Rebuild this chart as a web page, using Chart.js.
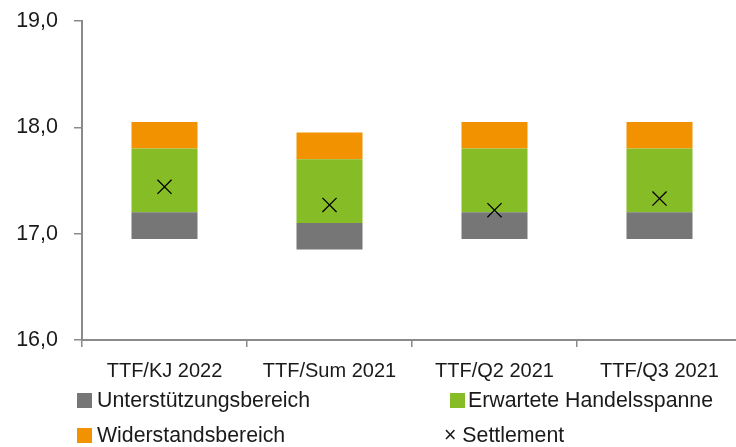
<!DOCTYPE html>
<html>
<head>
<meta charset="utf-8">
<script src="https://cdn.jsdelivr.net/npm/chart.js@4.4.1/dist/chart.umd.min.js"></script>
<style>
  html, body { margin: 0; padding: 0; background: #fff; overflow: hidden; }
  #wrap { position: relative; width: 736px; height: 447px; overflow: hidden; }
  #c { position: absolute; left: 0; top: -8px; }
  .lg { position: absolute; font-family: "Liberation Sans", Arial, sans-serif; font-size: 21.3px; line-height: 1; color: #1a1a1a; white-space: nowrap; }
  .bx { position: absolute; width: 15px; height: 15px; }
</style>
</head>
<body>
<div id="wrap">
  <canvas id="c" width="750" height="455" style="width:750px;height:455px"></canvas>
  <div class="bx" style="left:77px;top:393px;background:#767676"></div>
  <div class="lg" style="left:97px;top:390px">Unterstützungsbereich</div>
  <div class="bx" style="left:450px;top:393px;background:#86BC25"></div>
  <div class="lg" style="left:468px;top:390px">Erwartete Handelsspanne</div>
  <div class="bx" style="left:77px;top:428px;background:#F39200"></div>
  <div class="lg" style="left:97px;top:425px">Widerstandsbereich</div>
  <div class="lg" style="left:444px;top:425px">× Settlement</div>
</div>
<script>
const categories = ['TTF/KJ 2022', 'TTF/Sum 2021', 'TTF/Q2 2021', 'TTF/Q3 2021'];
const supportLow  = [16.95, 16.85, 16.95, 16.95];
const supportHigh = [17.20, 17.10, 17.20, 17.20];
const rangeHigh   = [17.80, 17.70, 17.80, 17.80];
const resistHigh  = [18.05, 17.95, 18.05, 18.05];
const settlement  = [17.44, 17.27, 17.22, 17.33];
const yMin = 16, yMax = 19, yStep = 1;

const pairs = (a, b) => a.map((v, i) => [v, b[i]]);
const axisGrey = '#8a8a8a';

new Chart(document.getElementById('c'), {
  data: {
    labels: categories,
    datasets: [
      { type: 'line', label: 'Settlement', data: settlement, showLine: false,
        pointStyle: 'crossRot', pointRadius: 10, pointHoverRadius: 10,
        borderColor: '#000', backgroundColor: '#000', pointBorderWidth: 1.3, order: 0 },
      { type: 'bar', label: 'Unterstützungsbereich', data: pairs(supportLow, supportHigh),
        backgroundColor: '#767676', order: 1 },
      { type: 'bar', label: 'Erwartete Handelsspanne', data: pairs(supportHigh, rangeHigh),
        backgroundColor: '#86BC25', order: 1 },
      { type: 'bar', label: 'Widerstandsbereich', data: pairs(rangeHigh, resistHigh),
        backgroundColor: '#F39200', order: 1 }
    ]
  },
  options: {
    responsive: false,
    animation: false,
    devicePixelRatio: 1,
    layout: { autoPadding: false, padding: { top: 13, right: 8, left: 0, bottom: 0 } },
    datasets: { bar: { grouped: false, barPercentage: 0.4, categoryPercentage: 1.0 } },
    plugins: { legend: { display: false }, tooltip: { enabled: false } },
    scales: {
      x: {
        offset: true,
        border: { display: true, color: axisGrey, width: 2 },
        grid: { offset: true, drawOnChartArea: false, drawTicks: true, tickLength: 7, color: axisGrey, lineWidth: 1.5 },
        ticks: { padding: 12, color: '#1a1a1a', font: { family: 'Liberation Sans', size: 20 }, maxRotation: 0 },
        afterFit(scale) { scale.height = 107; }
      },
      y: {
        min: yMin, max: yMax,
        border: { display: true, color: axisGrey, width: 2 },
        grid: { drawOnChartArea: false, drawTicks: true, tickLength: 8, color: axisGrey, lineWidth: 1.5 },
        ticks: { stepSize: yStep, padding: 16, color: '#1a1a1a', font: { family: 'Liberation Sans', size: 21.5 },
          callback: v => Number(v).toFixed(1).replace('.', ',') },
        afterFit(scale) { scale.width = 82; }
      }
    }
  }
});
</script>
</body>
</html>
